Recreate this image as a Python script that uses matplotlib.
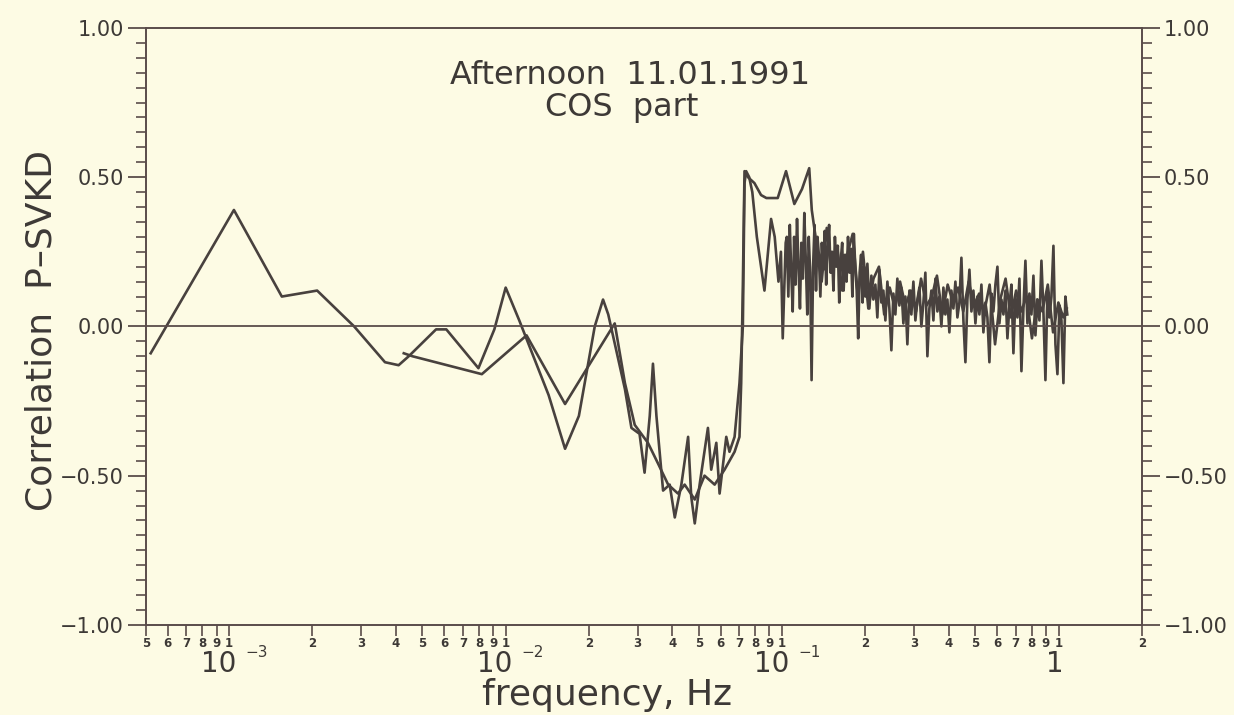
import numpy as np
import matplotlib
matplotlib.use("Agg")
import matplotlib.pyplot as plt
from matplotlib import ticker
from matplotlib.transforms import offset_copy

# P-SVKD correlation, cosine part, afternoon 11.01.1991
# series A: fine resolution (starts at the lowest frequency)
freq_a = [
    5.2e-4, 1.04e-3, 1.55e-3, 2.08e-3, 2.83e-3, 3.66e-3, 4.1e-3, 4.46e-3, 5.6e-3, 6.1e-3,
    7.97e-3, 9.1e-3, 1.0e-2, 1.12e-2, 1.43e-2, 1.64e-2, 1.84e-2, 2.1e-2, 2.25e-2, 0.0235,
    0.0270, 0.0285, 0.0305, 0.0318, 0.0332, 0.0341, 0.0351, 0.0371, 0.0392, 0.0409,
    0.0432, 0.0457, 0.0469, 0.0483, 0.0503, 0.0539, 0.0554, 0.0578, 0.0594, 0.0628,
    0.0645, 0.0673, 0.0701, 0.0721, 0.0731, 0.0741, 0.076, 0.078, 0.081, 0.0863,
    0.0912, 0.094, 0.097, 0.099, 0.1005, 0.103,
    0.104, 0.1053, 0.1066, 0.1079, 0.1092, 0.1105, 0.1118, 0.1132, 0.1146, 0.1160,
    0.1174, 0.1188, 0.1203, 0.1218, 0.1233, 0.1248, 0.1263, 0.1278, 0.1294, 0.1310,
    0.1326, 0.1342, 0.1358, 0.1375, 0.1392, 0.1409, 0.1426, 0.1443, 0.1461, 0.1479,
    0.1497, 0.1515, 0.1533, 0.1552, 0.1571, 0.1590, 0.1609, 0.1629, 0.1649, 0.1669,
    0.1689, 0.1710, 0.1731, 0.1752, 0.1773, 0.1795, 0.1817, 0.1839, 0.1861, 0.1884,
    0.1907, 0.1930, 0.1954, 0.1978,
    0.200, 0.2034, 0.2068, 0.2103, 0.2138, 0.2174, 0.2210, 0.2248, 0.2285, 0.2324,
    0.2363, 0.2403, 0.2443, 0.2484, 0.2526, 0.2568, 0.2611, 0.2655, 0.2700, 0.2745,
    0.2791, 0.2838, 0.2886, 0.2934, 0.2984, 0.3034, 0.3085, 0.3137, 0.3189, 0.3243,
    0.3297, 0.3353, 0.3409, 0.3466, 0.3525, 0.3584, 0.3644, 0.3705, 0.3768, 0.3831,
    0.3895, 0.3961, 0.4027, 0.4095, 0.4164, 0.4234, 0.4305, 0.4377, 0.4451, 0.4526,
    0.4602, 0.4679, 0.4758, 0.4838, 0.4919, 0.5002, 0.5086, 0.5171, 0.5258, 0.5346,
    0.5436, 0.5527, 0.5620, 0.5715, 0.5811, 0.5908, 0.6008, 0.6109, 0.6211, 0.6316,
    0.6422, 0.6530, 0.6639, 0.6751, 0.6864, 0.6980, 0.7097, 0.7216, 0.7338, 0.7461,
    0.7586, 0.7714, 0.7843, 0.7975, 0.8109, 0.8245, 0.8384, 0.8525, 0.8668, 0.8813,
    0.8961, 0.9112, 0.9265, 0.9421, 0.9579, 0.9740, 0.9903, 1.007, 1.024, 1.041,
    1.058, 1.075,
]
corr_a = [
    -0.09, 0.39, 0.10, 0.12, 0.00, -0.12, -0.13, -0.10, -0.01, -0.01,
    -0.14, -0.01, 0.13, 0.02, -0.23, -0.41, -0.30, 0.00, 0.09, 0.04,
    -0.21, -0.34, -0.36, -0.49, -0.30, -0.125, -0.30, -0.55, -0.53, -0.64,
    -0.53, -0.37, -0.57, -0.66, -0.53, -0.34, -0.48, -0.39, -0.56, -0.37,
    -0.42, -0.37, -0.19, 0.00, 0.48, 0.52, 0.50, 0.45, 0.30, 0.12,
    0.36, 0.30, 0.15, 0.25, -0.04, 0.28,
    0.30, 0.10, 0.34, 0.18, 0.05, 0.30, 0.14, 0.36, 0.20, 0.06,
    0.28, 0.16, 0.38, 0.22, 0.04, 0.30, 0.18, -0.18, 0.20, 0.34,
    0.12, 0.30, 0.24, 0.10, 0.28, 0.19, 0.32, 0.14, 0.26, 0.34,
    0.18, 0.25, 0.12, 0.30, 0.20, 0.27, 0.08, 0.22, 0.28, 0.12,
    0.24, 0.15, 0.30, 0.18, 0.26, 0.10, 0.31, 0.20, 0.12, -0.04,
    0.18, 0.24, 0.08, 0.20,
    0.10, 0.21, 0.06, 0.17, 0.09, 0.14, 0.03, 0.19, 0.08, 0.12,
    0.02, 0.15, 0.06, -0.08, 0.11, 0.04, 0.16, 0.07, 0.13, 0.01,
    0.10, -0.06, 0.12, 0.04, 0.15, 0.02, 0.09, 0.13, 0.00, 0.08,
    0.18, -0.10, 0.06, 0.12, 0.02, 0.16, 0.05, 0.10, 0.00, 0.13,
    0.04, 0.09, -0.02, 0.12, 0.06, 0.15, 0.03, 0.08, 0.23, 0.02,
    -0.12, 0.09, 0.19, 0.05, 0.12, 0.01, 0.10, 0.04, 0.14, -0.02,
    0.08, 0.03, -0.12, 0.11, 0.05, 0.14, 0.20, 0.01, 0.09, 0.04,
    0.12, -0.04, 0.07, 0.14, -0.09, 0.10, 0.03, 0.16, -0.15, 0.06,
    0.22, 0.01, 0.11, 0.04, 0.17, -0.03, 0.09, 0.02, 0.22, 0.05,
    -0.18, 0.11, 0.03, 0.10, 0.27, -0.06, -0.16, 0.07, 0.02, -0.19,
    0.10, 0.04,
]

# series B: coarser, smoother estimate
freq_b = [
    4.28e-3, 4.6e-3, 8.2e-3, 1.19e-2, 1.64e-2, 2.48e-2, 0.0270, 0.0293, 0.0327, 0.0356,
    0.0387, 0.0420, 0.0444, 0.0483, 0.0524, 0.0570, 0.0619, 0.0673, 0.0701, 0.0711,
    0.0721, 0.0731, 0.0752, 0.0794, 0.0839, 0.0877, 0.0912, 0.0964, 0.1033, 0.1107,
    0.118, 0.1253, 0.128,
    0.133, 0.139, 0.145, 0.151, 0.158, 0.165, 0.172, 0.180, 0.188, 0.196,
    0.205, 0.214, 0.224, 0.234, 0.245, 0.256, 0.267, 0.279, 0.292, 0.305,
    0.318, 0.333, 0.348, 0.363, 0.380, 0.397, 0.415, 0.433, 0.452, 0.473,
    0.494, 0.516, 0.539, 0.563, 0.589, 0.615, 0.643, 0.672, 0.702, 0.733,
    0.766, 0.801, 0.837, 0.874, 0.914, 0.955, 0.998, 1.040, 1.070,
]
corr_b = [
    -0.09, -0.10, -0.16, -0.03, -0.26, 0.01, -0.19, -0.33, -0.39, -0.46,
    -0.53, -0.56, -0.53, -0.58, -0.50, -0.53, -0.48, -0.42, -0.37, -0.19,
    0.14, 0.52, 0.50, 0.48, 0.44, 0.43, 0.43, 0.43, 0.52, 0.41,
    0.46, 0.53, 0.39,
    0.28, 0.15, 0.33, 0.18, 0.27, 0.12, 0.24, 0.31, 0.10, 0.25,
    0.06, 0.16, 0.20, 0.04, 0.13, 0.06, 0.15, 0.07, 0.12, 0.05,
    0.16, 0.07, 0.10, 0.17, 0.04, 0.14, 0.08, 0.13, 0.05, 0.15,
    0.07, 0.11, 0.05, 0.14, -0.06, 0.09, 0.16, 0.03, 0.12, 0.05,
    0.10, -0.04, 0.09, 0.05, 0.14, -0.02, 0.08, 0.03, 0.06,
]

decades = [-3, -2, -1, 0]

paper = "#fdfbe4"
ink = "#48413e"
axcol = "#5a4c4a"
txt = "#3d3936"

fig = plt.figure(figsize=(12.34, 7.15), dpi=100, facecolor=paper)
ax = fig.add_axes([0.1183, 0.126, 0.807, 0.835])
ax.set_facecolor(paper)

ax.plot(freq_a, corr_a, color=ink, lw=1.9)
ax.plot(freq_b, corr_b, color=ink, lw=1.9)
ax.axhline(0.0, color=axcol, lw=1.3)

ax.set_xscale("log")
ax.set_xlim(5e-4, 2.0)
ax.set_ylim(-1.0, 1.0)

for s in ax.spines.values():
    s.set_color(axcol)
    s.set_linewidth(1.4)

# y axis: labels on both sides, ticks outward
ax.yaxis.set_major_locator(ticker.MultipleLocator(0.5))
ax.yaxis.set_minor_locator(ticker.MultipleLocator(0.05))
ax.yaxis.set_major_formatter(ticker.FuncFormatter(lambda v, p: f"{v:.2f}".replace("-", "\u2212")))
ax.tick_params(axis="y", which="both", left=True, right=True, labelleft=True,
               labelright=True, direction="out", color=axcol, labelcolor=txt)
ax.tick_params(axis="y", which="major", length=13, width=1.3, labelsize=15, pad=3)
ax.tick_params(axis="y", which="minor", length=7, width=1.2)

# x axis: small digits under every tick, big decade labels below
ax.xaxis.set_major_locator(ticker.LogLocator(base=10, numticks=20))
ax.xaxis.set_minor_locator(ticker.LogLocator(base=10, subs=np.arange(2, 10), numticks=20))


def digit(v, pos):
    return str(int(round(v / 10 ** np.floor(np.log10(v) + 1e-9))))


ax.xaxis.set_major_formatter(ticker.FuncFormatter(digit))
ax.xaxis.set_minor_formatter(ticker.FuncFormatter(digit))
ax.tick_params(axis="x", which="both", top=False, direction="out", length=8, width=1.2,
               color=axcol, labelsize=8.5, pad=1, labelcolor=txt)
for lab in ax.get_xticklabels(which="both"):
    lab.set_fontweight("bold")

xtr = ax.get_xaxis_transform()
for e in decades:
    if e == 0:
        ax.text(1.0, -0.066, "1", transform=offset_copy(xtr, fig=fig, x=-4, y=0, units="dots"),
                ha="center", va="center", fontsize=20, color=txt)
        continue
    ax.text(10.0 ** e, -0.066, "10", transform=offset_copy(xtr, fig=fig, x=7, y=0, units="dots"),
            ha="right", va="center", fontsize=20, color=txt)
    ax.text(10.0 ** e, -0.046, f"\u2212{-e}", transform=offset_copy(xtr, fig=fig, x=16, y=0, units="dots"),
            ha="left", va="center", fontsize=11, color=txt)

ax.text(0.486, 0.921, "Afternoon  11.01.1991", transform=ax.transAxes, ha="center",
        va="center", fontsize=23, color=txt)
ax.text(0.478, 0.867, "COS  part", transform=ax.transAxes, ha="center",
        va="center", fontsize=23, color=txt)

fig.text(0.034, 0.538, "Correlation  P\u2013SVKD", rotation=90, ha="center", va="center",
         fontsize=26, color=txt)
fig.text(0.492, 0.028, "frequency, Hz", ha="center", va="center", fontsize=26, color=txt)

fig.savefig("out.png", dpi=100, facecolor=paper)
